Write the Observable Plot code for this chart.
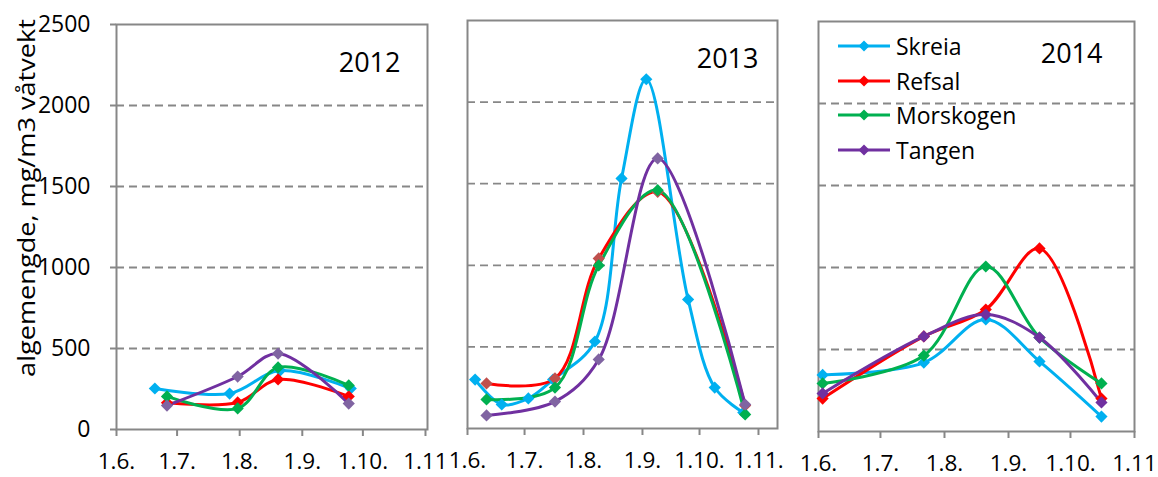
<!DOCTYPE html>
<html><head><meta charset="utf-8">
<script src="https://cdn.jsdelivr.net/npm/d3@7"></script>
<script src="https://cdn.jsdelivr.net/npm/@observablehq/plot@0.6"></script>
<style>
body{margin:0;background:#fff;font-family:"Open Sans",sans-serif;}
#wrap{position:relative;width:1158px;height:477px;overflow:hidden;background:#fff;}
.panel{position:absolute;top:0;height:477px;overflow:hidden;}
.panel svg{overflow:visible;background:transparent !important;font-family:"Open Sans",sans-serif;}
#ytitle{position:absolute;left:25px;top:198px;white-space:nowrap;font-size:24px;color:#000;
  transform:translate(-50%,-50%) rotate(-90deg) scaleX(1.13);transform-origin:center;}
#legend{position:absolute;left:838px;top:29px;font-size:23px;color:#000;}
#legend .row{height:34.5px;display:flex;align-items:center;}
#legend svg{margin-right:6px;}
</style></head><body>
<div id="wrap"><div id="ytitle">algemengde, mg/m3 våtvekt</div></div>
<script>
// ---- categories / labels ----
const sites = ["Skreia", "Refsal", "Morskogen", "Tangen"];
const lineColors = ["#00B0F0", "#FF0000", "#00B050", "#7030A0"];
const markerColors2012 = ["#00B0F0", "#FF0000", "#00B050", "#8064A2"];
const markerColors2013 = ["#00B0F0", "#C0504D", "#00B050", "#8064A2"];
const markerColors2014 = ["#00B0F0", "#FF0000", "#00B050", "#7030A0"];
const yTicks = [0, 500, 1000, 1500, 2000, 2500];
const monthTicks2012 = ["1.6.", "1.7.", "1.8.", "1.9.", "1.10.", "1.11"];
const monthTicks2013 = ["1.6.", "1.7.", "1.8.", "1.9.", "1.10.", "1.11."];
const monthTicks2014 = ["1.6.", "1.7.", "1.8.", "1.9.", "1.10.", "1.11"];

// ---- 2012 ----
const skreiaDates2012 = ["2012-06-20", "2012-07-27", "2012-08-21", "2012-09-25"];
const skreia2012 = [253, 222, 364, 253];
const otherDates2012 = ["2012-06-26", "2012-07-31", "2012-08-20", "2012-09-24"];
const refsal2012 = [165, 167, 309, 204];
const morskogen2012 = [204, 130, 383, 272];
const tangen2012 = [148, 327, 469, 160];

// ---- 2013 ----
const skreiaDates2013 = ["2013-06-05", "2013-06-19", "2013-07-03", "2013-07-16", "2013-08-07", "2013-08-21", "2013-09-03", "2013-09-25", "2013-10-09", "2013-10-24"];
const skreia2013 = [300, 147, 184, 300, 533, 1532, 2140, 791, 251, 98];
const otherDates2013 = ["2013-06-11", "2013-07-17", "2013-08-09", "2013-09-09", "2013-10-25"];
const refsal2013 = [276, 307, 1042, 1450, 141];
const morskogen2013 = [178, 251, 999, 1460, 86];
const tangen2013 = [80, 165, 423, 1655, 147];

// ---- 2014 ----
const dates2014 = ["2014-06-03", "2014-07-22", "2014-08-21", "2014-09-16", "2014-10-16"];
const skreia2014 = [345, 420, 683, 427, 91];
const refsal2014 = [201, 580, 744, 1116, 201];
const morskogen2014 = [293, 463, 1006, 573, 293];
const tangen2014 = [232, 580, 713, 573, 177];

function rows(dates, values, site, markerColors) {
  const k = sites.indexOf(site);
  return values.map((v, i) => ({date: new Date(dates[i]), value: v, site, mcol: markerColors[k]}));
}

const data2012 = [
  ...rows(skreiaDates2012, skreia2012, "Skreia", markerColors2012),
  ...rows(otherDates2012, refsal2012, "Refsal", markerColors2012),
  ...rows(otherDates2012, morskogen2012, "Morskogen", markerColors2012),
  ...rows(otherDates2012, tangen2012, "Tangen", markerColors2012)
];
const data2013 = [
  ...rows(skreiaDates2013, skreia2013, "Skreia", markerColors2013),
  ...rows(otherDates2013, refsal2013, "Refsal", markerColors2013),
  ...rows(otherDates2013, morskogen2013, "Morskogen", markerColors2013),
  ...rows(otherDates2013, tangen2013, "Tangen", markerColors2013)
];
const data2014 = [
  ...rows(dates2014, skreia2014, "Skreia", markerColors2014),
  ...rows(dates2014, refsal2014, "Refsal", markerColors2014),
  ...rows(dates2014, morskogen2014, "Morskogen", markerColors2014),
  ...rows(dates2014, tangen2014, "Tangen", markerColors2014)
];

const panels = [
  {year: 2012, data: data2012, labels: monthTicks2012, left: 0, width: 452, mL: 116, mR: 25, mT: 24, mB: 48, end: [2012, 10, 2], yAxis: true, dx: -27, dy: 28},
  {year: 2013, data: data2013, labels: monthTicks2013, left: 440, width: 350, mL: 27, mR: 13, mT: 20, mB: 49, end: [2013, 10, 11], yAxis: false, dx: -19, dy: 28},
  {year: 2014, data: data2014, labels: monthTicks2014, left: 790, width: 368, mL: 28, mR: 24, mT: 21, mB: 46, end: [2014, 10, 1], yAxis: false, dx: -32, dy: 22}
];

const wrap = document.getElementById("wrap");
const grey = "#878787";

for (const p of panels) {
  const start = new Date(Date.UTC(p.year, 5, 1));
  const end = new Date(Date.UTC(...p.end));
  const tickDates = d3.utcMonth.range(start, new Date(Date.UTC(p.year, 10, 2)));
  const marks = [
    Plot.gridY(yTicks.filter(d => d > 0 && d < 2500), {stroke: grey, strokeOpacity: 1, strokeWidth: 1.8, strokeDasharray: "8,5"}),
    Plot.frame({stroke: grey, strokeWidth: 2}),
    Plot.axisX({ticks: tickDates, tickFormat: d => p.labels[d.getUTCMonth() - 5], tickSize: 7, tickPadding: 17,
      fontSize: 22.5, stroke: grey, strokeWidth: 2, fill: "#000", label: null}),
    Plot.line(p.data, {x: "date", y: "value", z: "site", stroke: "site", curve: "catmull-rom", strokeWidth: 3}),
    Plot.dot(p.data, {x: "date", y: "value", fill: "mcol", symbol: "diamond2", r: 5.5, stroke: null}),
    Plot.text([String(p.year)], {frameAnchor: "top-right", dx: p.dx, dy: p.dy, fontSize: 27, fill: "#000"})
  ];
  if (p.yAxis) {
    marks.splice(2, 0, Plot.axisY({ticks: yTicks, tickFormat: d => String(d), tickSize: 6, tickPadding: 20, fontSize: 23, stroke: grey, strokeWidth: 2, fill: "#000", label: null}));
  }
  const chart = Plot.plot({
    width: p.width, height: 477,
    marginLeft: p.mL, marginRight: p.mR, marginTop: p.mT, marginBottom: p.mB,
    style: {background: "transparent", overflow: "visible"},
    x: {type: "utc", domain: [start, end]},
    y: {domain: [0, 2500], axis: p.yAxis ? undefined : null},
    color: {domain: sites, range: lineColors},
    marks
  });
  const div = document.createElement("div");
  div.className = "panel";
  div.style.left = p.left + "px";
  div.style.width = p.width + "px";
  div.appendChild(chart);
  wrap.appendChild(div);
}

// legend (inside 2014 panel)
const legend = document.createElement("div");
legend.id = "legend";
sites.forEach((s, i) => {
  const row = document.createElement("div");
  row.className = "row";
  row.innerHTML = `<svg width="52" height="14"><line x1="0" y1="7" x2="52" y2="7" stroke="${lineColors[i]}" stroke-width="3"/><polygon points="26,1.5 31.5,7 26,12.5 20.5,7" fill="${lineColors[i]}"/></svg><span>${s}</span>`;
  legend.appendChild(row);
});
wrap.appendChild(legend);
</script>
</body></html>
